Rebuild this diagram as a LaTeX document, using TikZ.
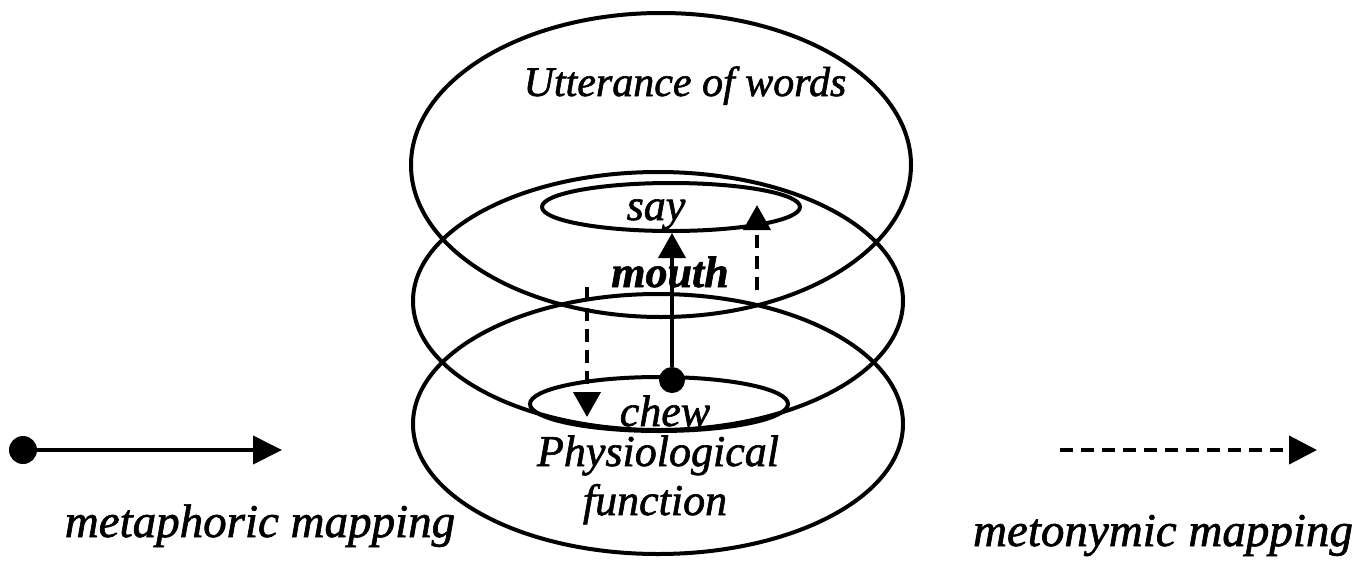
\documentclass[tikz,border=0pt]{standalone}
\usepackage{fontspec}
\setmainfont{Liberation Serif}[ItalicFeatures={FakeBold=1.4},BoldItalicFeatures={FakeBold=1.4}]
\usepackage{tikz}
\usetikzlibrary{arrows.meta,positioning,shapes.geometric}
\tikzset{
  ring/.style={draw,ellipse,line width=4pt,inner sep=0pt},
  lbl/.style={anchor=base,inner sep=0pt,font=\fontsize{44}{50}\selectfont\itshape},
  keylbl/.style={anchor=base,inner sep=0pt,font=\fontsize{47}{54}\selectfont\itshape},
  mdotst/.style={circle,fill,inner sep=0pt,minimum size=26pt},
  metarr/.style={-{Triangle[length=25pt,width=27pt]},line width=4pt},
  metoarr/.style={-{Triangle[length=28pt,width=28pt]},line width=4pt,dash pattern=on 13pt off 8pt}
}
\begin{document}
\begin{tikzpicture}[x=1pt,y=-1pt]
  \useasboundingbox (0,0) rectangle (1363,560);
  % domains
  \node[ring,minimum width=500pt,minimum height=304pt] (utter) at (661,165) {};
  \node[ring,minimum width=490pt,minimum height=258pt] (mouthd) at (658,301) {};
  \node[ring,minimum width=490pt,minimum height=260pt] (physio) at (658,424) {};
  \node[ring,minimum width=258pt,minimum height=48pt] (say) at (671,207) {};
  \node[ring,minimum width=258pt,minimum height=54pt] (chew) at (659,404) {};
  % labels
  \node[lbl,font=\fontsize{42}{48}\selectfont\itshape] (utxt) at (685,96) {Utterance of words};
  \node[lbl] (saytxt) at (656,220) {say};
  \node[lbl,font=\fontsize{44}{50}\selectfont\bfseries\itshape] (mouthtxt) at (670,287) {mouth};
  \node[lbl] (chewtxt) at (665,426) {chew};
  \node[lbl] (phtxt) at (658,466) {Physiological};
  \node[lbl] (fntxt) at (655,515) {function};
  % mappings
  \node[mdotst] (mdot) at (672,380) {};
  \draw[metarr] (mdot) -- (mdot |- say.south);
  \coordinate (dnA) at (587,287);
  \coordinate (dnB) at (587,417);
  \coordinate (upA) at (757,290);
  \coordinate (upB) at (757,205);
  \draw[metoarr,-{Triangle[length=25pt,width=27pt]}] (dnA) -- (dnB);
  \draw[metoarr,-{Triangle[length=25pt,width=27pt]}] (upA) -- (upB);
  % key
  \node[mdotst,minimum size=28pt] (kdot) at (23,450) {};
  \coordinate (ktip) at (282,450);
  \draw[metarr,-{Triangle[length=29pt,width=28pt]}] (kdot) -- (ktip);
  \node[keylbl] (kmeta) at (260,537) {metaphoric mapping};
  \coordinate (kdash) at (1060,450);
  \coordinate (kdtip) at (1317,450);
  \draw[metoarr] (kdash) -- (kdtip);
  \node[keylbl] (kmeto) at (1163,546) {metonymic mapping};
\end{tikzpicture}
\end{document}
